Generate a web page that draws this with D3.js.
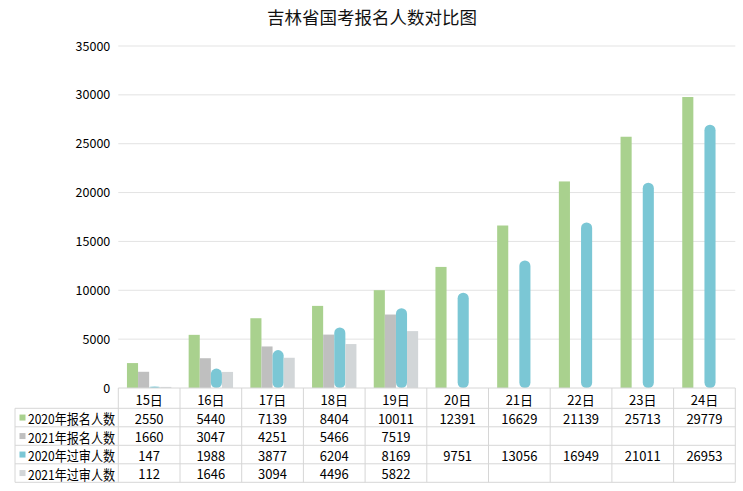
<!DOCTYPE html>
<html>
<head>
<meta charset="utf-8">
<script src="https://cdn.jsdelivr.net/npm/d3@7"></script>
<style>
  html, body { margin: 0; padding: 0; background: #fff; }
  svg { display: block; font-family: "Noto Sans CJK SC", "Noto Sans", sans-serif; }
</style>
</head>
<body>
<svg id="chart" width="743" height="491"></svg>
<script>
// ---- data ----
const title = "吉林省国考报名人数对比图";
const categories = ["15日", "16日", "17日", "18日", "19日", "20日", "21日", "22日", "23日", "24日"];
const seriesNames = ["2020年报名人数", "2021年报名人数", "2020年过审人数", "2021年过审人数"];
const reg2020 = [2550, 5440, 7139, 8404, 10011, 12391, 16629, 21139, 25713, 29779];
const reg2021 = [1660, 3047, 4251, 5466, 7519, null, null, null, null, null];
const pass2020 = [147, 1988, 3877, 6204, 8169, 9751, 13056, 16949, 21011, 26953];
const pass2021 = [112, 1646, 3094, 4496, 5822, null, null, null, null, null];
const yTicks = [0, 5000, 10000, 15000, 20000, 25000, 30000, 35000];
const colors = ["#a9d18e", "#bfbfbf", "#7bc7d5", "#d2d6d8"];

const seriesValues = [reg2020, reg2021, pass2020, pass2021];

// ---- layout ----
const svg = d3.select("#chart");
const plotLeft = 118.3, plotRight = 735.3, plotTop = 46, plotBottom = 388;
const headerLeft = 15;
const catRowH = 20.3, rowH = 18.5;

const x = d3.scaleBand().domain(categories).range([plotLeft, plotRight]).paddingInner(0).paddingOuter(0);
const xs = d3.scaleBand().domain(seriesNames).range([0, x.bandwidth()]).paddingInner(0).paddingOuter(0.78);
const y = d3.scaleLinear().domain([0, 35000]).range([plotBottom, plotTop]);

// title
svg.append("text")
  .attr("x", 372).attr("y", 24)
  .attr("text-anchor", "middle")
  .attr("font-size", 17.5)
  .attr("fill", "#111")
  .text(title);

// gridlines
svg.append("g").selectAll("line")
  .data(yTicks.filter(d => d > 0))
  .join("line")
  .attr("x1", plotLeft).attr("x2", plotRight)
  .attr("y1", d => y(d)).attr("y2", d => y(d))
  .attr("stroke", "#e3e3e3").attr("stroke-width", 1);

// y axis labels
const yAxis = d3.axisLeft(y).tickValues(yTicks).tickSize(0).tickPadding(8).tickFormat(d3.format("d"));
const yg = svg.append("g").attr("transform", `translate(${plotLeft},0)`).call(yAxis);
yg.select(".domain").remove();
yg.selectAll("text").attr("font-size", 12.5).attr("fill", "#000")
  .attr("font-family", "\"Noto Sans CJK SC\", sans-serif");

// bars
seriesNames.forEach((name, si) => {
  const vals = seriesValues[si];
  const g = svg.append("g");
  const data = categories.map((c, i) => ({ c, v: vals[i] })).filter(d => d.v != null);
  const r = si === 2 ? 5.5 : 0;
  g.selectAll("rect").data(data).join("rect")
    .attr("x", d => x(d.c) + xs(name))
    .attr("width", xs.bandwidth())
    .attr("y", d => y(d.v))
    .attr("height", d => plotBottom - y(d.v))
    .attr("rx", r).attr("ry", r)
    .attr("fill", colors[si]);
});

// ---- data table ----
const tableColor = "#d6d6d6";
const rowYs = [plotBottom, plotBottom + catRowH];
for (let i = 1; i <= 4; i++) rowYs.push(plotBottom + catRowH + i * rowH);
const tableBottom = rowYs[rowYs.length - 1];
const tg = svg.append("g");

// horizontal lines
tg.append("line").attr("x1", plotLeft).attr("x2", plotRight)
  .attr("y1", plotBottom).attr("y2", plotBottom).attr("stroke", tableColor);
rowYs.slice(1).forEach(yy => {
  tg.append("line").attr("x1", headerLeft).attr("x2", plotRight)
    .attr("y1", yy).attr("y2", yy).attr("stroke", tableColor);
});
// vertical lines
const colEdges = categories.map(c => x(c)).concat([plotRight]);
colEdges.forEach(xx => {
  tg.append("line").attr("x1", xx).attr("x2", xx)
    .attr("y1", plotBottom).attr("y2", tableBottom).attr("stroke", tableColor);
});
tg.append("line").attr("x1", headerLeft).attr("x2", headerLeft)
  .attr("y1", rowYs[1]).attr("y2", tableBottom).attr("stroke", tableColor);

// category labels
tg.selectAll("text.cat").data(categories).join("text")
  .attr("class", "cat")
  .attr("x", d => x(d) + x.bandwidth() / 2)
  .attr("y", plotBottom + catRowH / 2 + 1)
  .attr("text-anchor", "middle").attr("dominant-baseline", "central")
  .attr("font-size", 13).attr("fill", "#000")
  .text(d => d);

// series rows
seriesNames.forEach((name, si) => {
  const cy = rowYs[si + 1] + rowH / 2;
  tg.append("rect")
    .attr("x", 19.5).attr("y", cy - 3).attr("width", 6).attr("height", 6)
    .attr("fill", colors[si]);
  tg.append("text")
    .attr("x", 28).attr("y", cy + 0.5)
    .attr("dominant-baseline", "central")
    .attr("font-size", 13.5).attr("fill", "#000")
    .attr("textLength", 87).attr("lengthAdjust", "spacingAndGlyphs")
    .text(name);
  const vals = seriesValues[si];
  categories.forEach((c, i) => {
    if (vals[i] == null) return;
    tg.append("text")
      .attr("x", x(c) + x.bandwidth() / 2)
      .attr("y", cy + 0.5)
      .attr("text-anchor", "middle").attr("dominant-baseline", "central")
      .attr("font-size", 13).attr("fill", "#000")
      .text(vals[i]);
  });
});
</script>
</body>
</html>
